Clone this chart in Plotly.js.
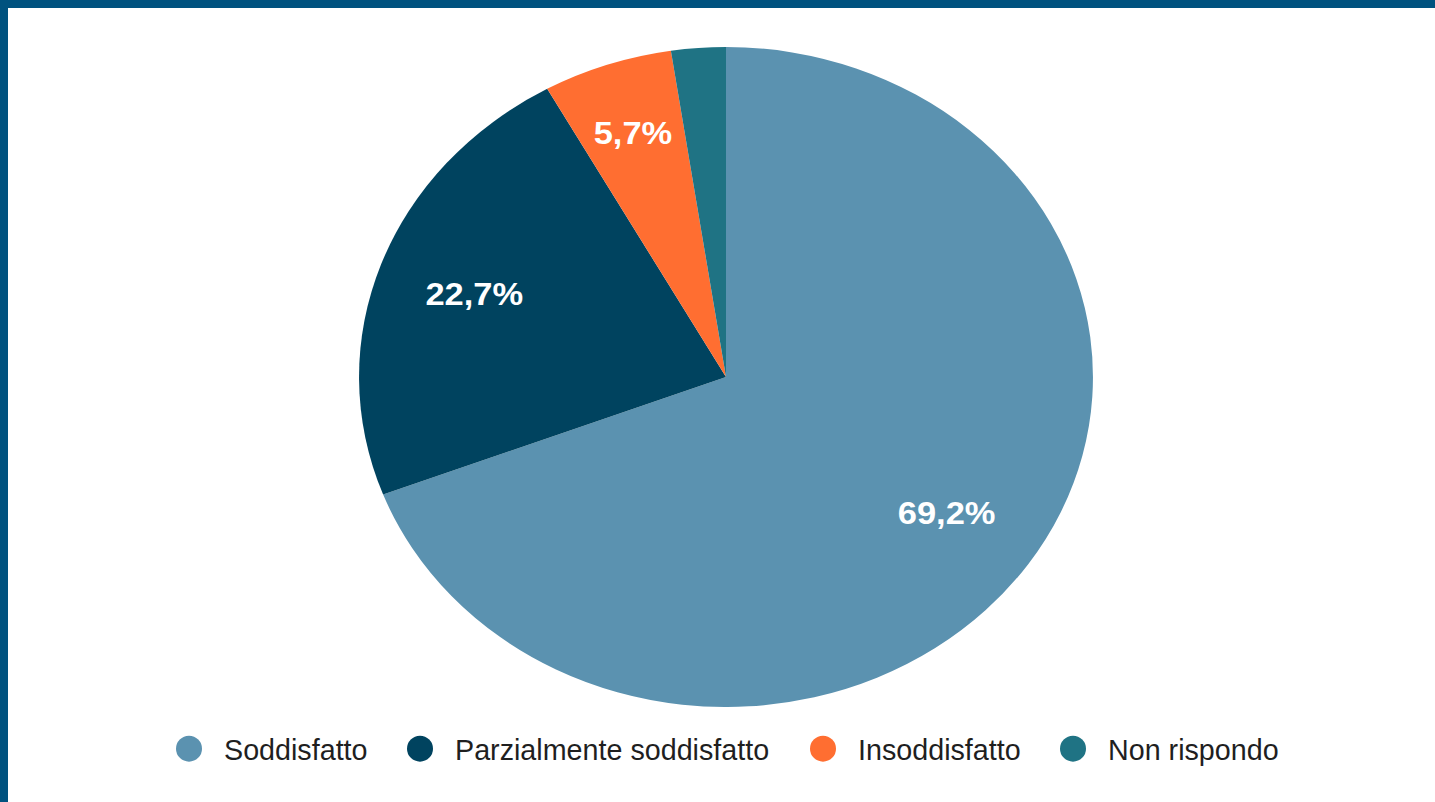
<!DOCTYPE html>
<html>
<head>
<meta charset="utf-8">
<script src="https://cdn.plot.ly/plotly-3.0.1.min.js"></script>
<style>
  html, body { margin: 0; padding: 0; background: #ffffff; }
  #frame { position: absolute; left: 0; top: 0; width: 1435px; height: 802px; overflow: hidden;
           background: #ffffff; box-sizing: border-box; border-top: 8px solid #00527f; border-left: 8px solid #00527f; }
  #pie { position: absolute; left: 396px; top: 47px; width: 660px; height: 660px;
         transform: scaleX(1.112); transform-origin: 50% 50%; }
  #leg { position: absolute; left: 0; top: 0; width: 1435px; height: 802px; }
</style>
</head>
<body>
<div id="frame"></div>
<div id="leg"></div>
<div id="pie"></div>
<script>
const categories = ["Soddisfatto", "Parzialmente soddisfatto", "Insoddisfatto", "Non rispondo"];
const percentages = [69.2, 22.7, 5.7, 2.4];
const shownLabels = ["69,2%", "22,7%", "5,7%", ""];
const colors = ["#5b92b0", "#00435f", "#ff6e31", "#1f7384"];

const common = {
  type: "pie",
  labels: categories,
  values: percentages,
  sort: false,
  direction: "clockwise",
  rotation: 0,
  hoverinfo: "none",
  showlegend: false
};
const labelFont = { family: "Liberation Sans, Arial, sans-serif", size: 31, color: "#ffffff", weight: "bold" };
const clear = colors.map(() => "rgba(0,0,0,0)");

// Visible pie (no text)
const pieFill = Object.assign({}, common, {
  textinfo: "none",
  marker: { colors: colors, line: { width: 0 } }
});
// Transparent ring carrying the labels of the large slices at ~0.73 R
const pieTextBig = Object.assign({}, common, {
  hole: 0.46,
  text: shownLabels.map((t, i) => percentages[i] > 10 ? t : ""),
  textinfo: "text", textposition: "inside", insidetextorientation: "horizontal",
  textfont: labelFont,
  marker: { colors: clear, line: { width: 0 } }
});

// Small-slice label placed on the slice bisector (computed from the values)
const total = percentages.reduce((a, b) => a + b, 0);
const annotations = [];
let cum = 0;
percentages.forEach((v, i) => {
  const mid = (cum + v / 2) / total * 2 * Math.PI;
  cum += v;
  if (v <= 10 && shownLabels[i]) {
    const r = 0.5 * 0.78;
    annotations.push({
      xref: "paper", yref: "paper",
      x: 0.5 + r * Math.sin(mid), y: 0.5 + r * Math.cos(mid),
      xanchor: "center", yanchor: "middle",
      text: shownLabels[i], showarrow: false, font: labelFont
    });
  }
});

Plotly.newPlot("pie", [pieFill, pieTextBig], {
  width: 660, height: 660,
  margin: { l: 0, r: 0, t: 0, b: 0 },
  paper_bgcolor: "rgba(0,0,0,0)",
  showlegend: false,
  annotations: annotations
}, { staticPlot: true, displayModeBar: false });

// Legend (separate, unstretched)
const legendStartsPx = [154, 385, 788, 1038];
const legTraces = categories.map((c, i) => ({
  type: "scatter", mode: "markers", x: [null], y: [null], name: c,
  marker: { color: colors[i], size: 16 },
  legend: i === 0 ? "legend" : "legend" + (i + 1),
  showlegend: true
}));
const legLayout = {
  width: 1435, height: 802,
  margin: { l: 0, r: 0, t: 0, b: 0 },
  paper_bgcolor: "rgba(0,0,0,0)", plot_bgcolor: "rgba(0,0,0,0)",
  xaxis: { visible: false }, yaxis: { visible: false }
};
legendStartsPx.forEach((px, i) => {
  const key = i === 0 ? "legend" : "legend" + (i + 1);
  legLayout[key] = {
    orientation: "h", x: px / 1435, xanchor: "left", y: 1 - 749 / 802, yanchor: "middle",
    itemwidth: 60, bgcolor: "rgba(0,0,0,0)",
    font: { family: "Liberation Sans, Arial, sans-serif", size: 28.7, color: "#1f1f1f" }
  };
});
Plotly.newPlot("leg", legTraces, legLayout, { staticPlot: true, displayModeBar: false }).then(() => {
  document.querySelectorAll("#leg .legendpoints path.scatterpts").forEach(p => {
    p.setAttribute("d", "M13,0A13,13 0 1,1 0,-13A13,13 0 0,1 13,0Z");
  });
});
</script>
</body>
</html>
